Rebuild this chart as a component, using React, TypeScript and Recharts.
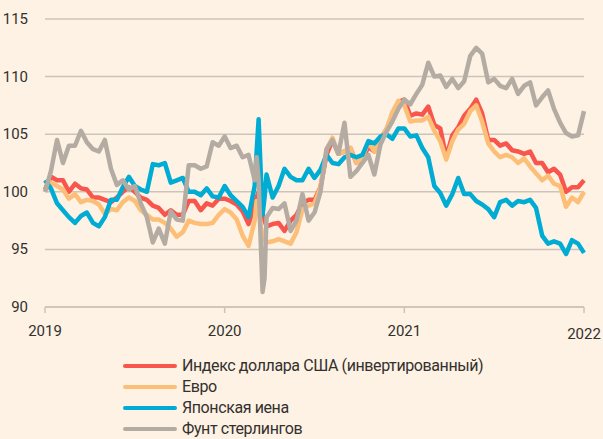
import { CartesianGrid, Line, LineChart, XAxis, YAxis } from 'recharts'

// decimal years, ~every 12 days, a few extra points around the March 2020 swing
const years = [
  2019.0, 2019.033, 2019.067, 2019.1, 2019.133, 2019.167, 2019.2, 2019.233, 2019.267, 2019.3,
  2019.333, 2019.367, 2019.4, 2019.433, 2019.467, 2019.5, 2019.533, 2019.567, 2019.6, 2019.633,
  2019.667, 2019.7, 2019.733, 2019.767, 2019.8, 2019.833, 2019.867, 2019.9, 2019.933, 2019.967,
  2020.0, 2020.033, 2020.067, 2020.1, 2020.133, 2020.167, 2020.178, 2020.189, 2020.2, 2020.211,
  2020.222, 2020.233, 2020.267, 2020.3, 2020.333, 2020.367, 2020.4, 2020.433, 2020.467, 2020.5,
  2020.533, 2020.567, 2020.6, 2020.633, 2020.667, 2020.7, 2020.733, 2020.767, 2020.8, 2020.833,
  2020.867, 2020.9, 2020.933, 2020.967, 2021.0, 2021.033, 2021.067, 2021.1, 2021.133, 2021.167,
  2021.2, 2021.233, 2021.267, 2021.3, 2021.333, 2021.367, 2021.4, 2021.433, 2021.467, 2021.5,
  2021.533, 2021.567, 2021.6, 2021.633, 2021.667, 2021.7, 2021.733, 2021.767, 2021.8, 2021.833,
  2021.867, 2021.9, 2021.933, 2021.967, 2022.0,
]

const usdInverted = [
  100.2, 101.3, 101.0, 101.0, 100.0, 100.7, 100.3, 100.2, 99.5, 99.5,
  99.3, 99.1, 99.5, 100.0, 100.4, 100.0, 99.5, 99.3, 98.8, 98.6,
  98.0, 98.4, 98.0, 98.0, 99.2, 99.2, 98.4, 99.0, 98.8, 99.4,
  99.4, 99.2, 98.9, 98.3, 97.2, 98.8, 99.5, 100.0, 99.0, 98.0,
  97.5, 97.0, 97.2, 97.3, 96.6, 97.5, 98.0, 99.0, 99.3, 99.3,
  100.4, 103.2, 104.5, 103.3, 103.5, 103.8, 102.5, 102.8, 103.9, 103.5,
  104.6, 105.4, 106.6, 107.8, 108.0, 106.6, 106.8, 106.7, 107.4, 105.8,
  105.5, 103.0, 104.9, 105.6, 106.6, 107.2, 108.0, 106.8, 104.5, 104.5,
  104.0, 104.2, 103.6, 103.5, 103.3, 103.5, 102.5, 102.5, 101.7, 102.0,
  101.5, 100.0, 100.4, 100.4, 101.0,
]

const euro = [
  100.0, 100.8, 100.5, 100.2, 99.4, 99.8, 99.1, 99.3, 99.2, 98.9,
  98.1, 98.5, 98.4, 99.1, 99.5, 99.2, 98.4, 98.0, 97.6, 97.6,
  97.3, 96.8, 96.1, 96.5, 97.5, 97.3, 97.2, 97.2, 97.3, 98.0,
  98.5, 98.2, 97.6, 96.2, 95.3, 97.5, 99.2, 99.0, 97.0, 96.3,
  95.8, 95.6, 95.7, 95.9, 95.7, 95.5, 96.5, 98.5, 98.8, 99.0,
  100.4, 103.7, 104.7, 103.3, 103.5, 103.8, 102.5, 103.0, 104.3, 103.5,
  104.6, 105.4, 106.9, 107.9, 107.5, 106.1, 106.2, 106.2, 106.5, 105.3,
  104.4, 102.8, 104.4, 105.4, 105.9, 107.0, 107.5, 106.1, 104.2, 103.5,
  103.0, 103.2, 103.0, 102.5, 102.9, 102.2, 101.6, 101.0, 101.4, 100.7,
  100.5, 98.7, 99.5, 99.1, 100.0,
]

const yen = [
  101.0, 100.3, 99.0, 98.4, 97.8, 97.3, 97.9, 98.2, 97.3, 97.0,
  97.8, 99.3, 99.3, 100.4, 101.3, 100.5, 100.2, 100.0, 102.4, 102.3,
  102.5, 100.8, 101.0, 101.2, 100.0, 100.0, 99.7, 100.3, 99.6, 99.5,
  100.5, 99.7, 99.2, 98.7, 97.8, 100.5, 103.5, 106.3, 102.0, 98.0,
  99.5, 101.5, 99.5, 100.5, 102.0, 101.3, 101.0, 101.0, 102.0, 101.2,
  101.9, 103.2, 102.5, 102.4, 103.0, 103.2, 103.0, 103.2, 104.4, 104.2,
  104.8, 105.0, 104.6, 105.5, 105.5, 104.8, 104.9, 103.8, 103.0, 100.5,
  99.9, 98.8, 99.8, 101.2, 99.8, 99.8, 99.2, 98.9, 98.5, 97.8,
  99.1, 99.3, 98.8, 99.2, 99.1, 99.3, 98.6, 96.2, 95.5, 95.7,
  95.5, 94.6, 95.8, 95.5, 94.7,
]

const pound = [
  100.0, 101.8, 104.5, 102.5, 104.0, 104.0, 105.3, 104.3, 103.7, 103.5,
  104.5, 102.0, 100.6, 101.0, 100.2, 100.5, 99.0, 97.8, 95.6, 96.8,
  95.5, 98.3, 97.6, 97.5, 102.3, 102.3, 102.0, 102.2, 104.3, 104.0,
  104.8, 103.8, 104.0, 103.0, 103.2, 101.0, 103.0, 101.0, 96.0, 91.3,
  92.5, 97.8, 98.6, 98.5, 99.0, 96.6, 97.5, 99.8, 97.5, 98.2,
  100.0, 103.7, 104.5, 103.3, 106.0, 101.3, 101.8, 102.5, 103.2, 101.5,
  104.1, 105.2, 106.1, 107.2, 108.0, 107.6, 108.5, 109.3, 111.2, 110.0,
  110.1, 109.1, 109.8, 109.0, 109.6, 111.8, 112.5, 112.0, 109.5, 109.8,
  109.2, 109.0, 109.8, 108.5, 109.2, 109.5, 107.5, 108.2, 108.8, 107.2,
  106.0, 105.1, 104.8, 104.9, 107.0,
]

const yTicks = [90, 95, 100, 105, 110, 115]
const xTicks = [2019, 2020, 2021, 2022]

const seriesNames = [
  'Индекс доллара США (инвертированный)',
  'Евро',
  'Японская иена',
  'Фунт стерлингов',
]
const seriesColors = ['#f8564c', '#fdbf78', '#00acd3', '#b4aca2']

const data = years.map((year, i) => ({
  year,
  usd: usdInverted[i],
  eur: euro[i],
  jpy: yen[i],
  gbp: pound[i],
}))

const font = 'Roboto, sans-serif'
const textColor = '#33302e'
const gridColor = '#cdc4b9'

const YTick = ({ y, payload }: any) => (
  <text x={28} y={y} textAnchor="end" dominantBaseline="central" fontSize={15} fill={textColor} fontFamily={font}>
    {payload.value}
  </text>
)

const XTick = ({ x, y, payload }: any) => (
  <text x={x} y={y + 16 + (payload.value === 2022 ? 3 : 0)} textAnchor="middle" dominantBaseline="central" fontSize={15} fill={textColor} fontFamily={font}>
    {payload.value}
  </text>
)

export default function App() {
  const keys = ['usd', 'eur', 'jpy', 'gbp']
  return (
    <div style={{ position: 'absolute', left: 0, top: 0, width: 603, height: 439, background: '#fdf2e4', fontFamily: font }}>
      <LineChart width={603} height={439} data={data} margin={{ top: 19, right: 19, bottom: 0, left: 0 }}>
        <CartesianGrid horizontal vertical={false} stroke={gridColor} strokeWidth={1.5} />
        <XAxis
          dataKey="year"
          type="number"
          domain={[2019, 2022]}
          ticks={xTicks}
          height={132}
          axisLine={{ stroke: gridColor, strokeWidth: 1.5 }}
          tickLine={{ stroke: gridColor, strokeWidth: 1.5 }}
          tickSize={6}
          tick={<XTick />}
        />
        <YAxis
          domain={[90, 115]}
          ticks={yTicks}
          width={45}
          axisLine={false}
          tickLine={false}
          tick={<YTick />}
        />
        {keys.map((k, i) => (
          <Line
            key={k}
            dataKey={k}
            stroke={seriesColors[i]}
            strokeWidth={4.5}
            dot={false}
            type="linear"
            strokeLinejoin="round"
            isAnimationActive={false}
          />
        ))}
      </LineChart>
      <div style={{ position: 'absolute', left: 123, top: 355 }}>
        {seriesNames.map((name, i) => (
          <div key={name} style={{ display: 'flex', alignItems: 'center', height: 21 }}>
            <span style={{ width: 54, height: 4, borderRadius: 2, background: seriesColors[i], marginRight: 5 }} />
            <span style={{ fontSize: 16, letterSpacing: -0.4, color: textColor }}>{name}</span>
          </div>
        ))}
      </div>
    </div>
  )
}
